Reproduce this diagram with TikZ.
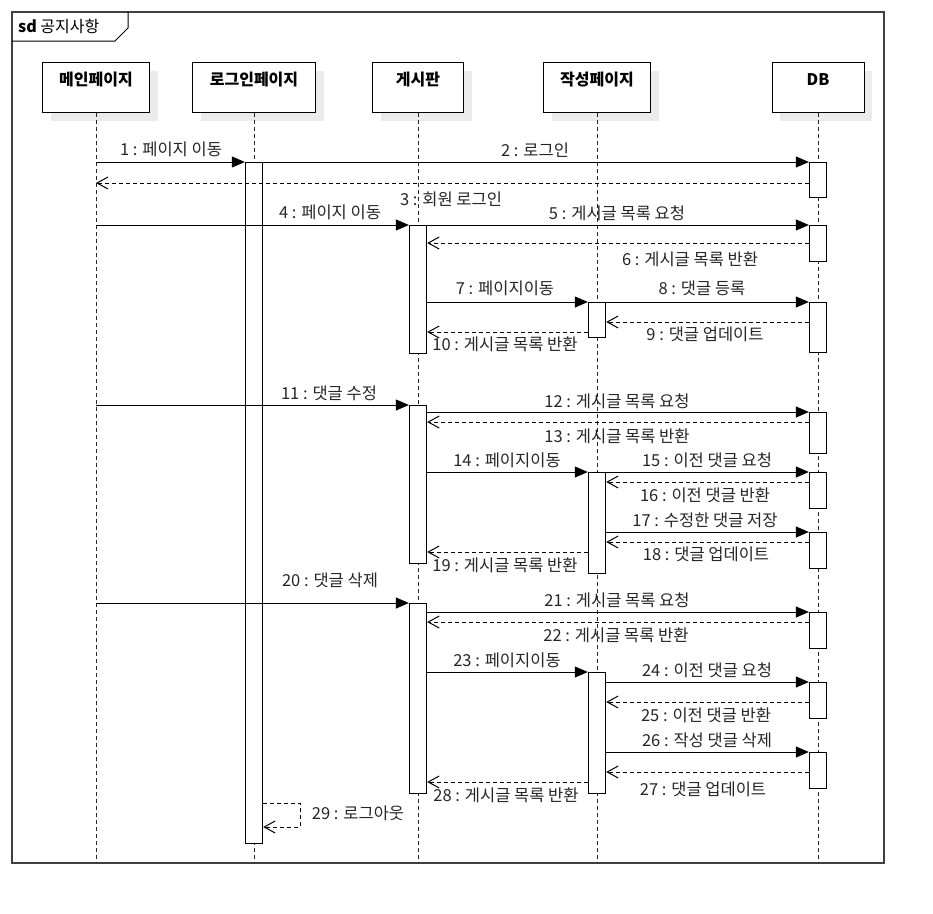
\documentclass[tikz,border=0pt]{standalone}
\usepackage{fontspec}
\setmainfont{Noto Sans CJK KR}
\usetikzlibrary{arrows.meta,shadows}

\newcommand{\diafont}{\fontsize{16.5}{19}\selectfont}

\tikzset{
  headbox/.style={draw, fill=white, line width=1pt, inner sep=0pt, anchor=north,
    text height=23pt, text depth=27pt, font=\fontsize{16}{19}\selectfont\bfseries,
    drop shadow={shadow xshift=8pt, shadow yshift=-8pt, fill=black!8, opacity=1}},
  actbar/.style={draw, fill=white, line width=1.3pt, inner sep=0pt, anchor=north, minimum width=17pt},
  life/.style={line width=0.9pt, black!85, dash pattern=on 4pt off 3pt},
  call/.style={line width=1pt, -{Triangle[length=13pt,width=11pt]}},
  ret/.style={line width=1pt, dash pattern=on 4pt off 3pt, -{Straight Barb[length=11pt,width=12pt]}},
  lbl/.style={inner sep=0pt, text=black!85}
}

\begin{document}
\begin{tikzpicture}[x=1pt, y=-1pt, font=\diafont]
    \useasboundingbox (0,0) rectangle (933,913);
    % Frame
    \draw[line width=1.5pt, black!75] (12,12) rectangle (884,863);
    \draw[line width=1pt] (12,41) -- (115,41) -- (128,28) -- (128,12);
    \node[anchor=west, inner sep=0pt, font=\fontsize{16}{19}\selectfont] (title) at (18,26) {\textbf{sd} 공지사항};
    % Lifeline heads
    \node[headbox, minimum width=107pt] (main) at (96,62) {메인페이지};
    \node[headbox, minimum width=123pt] (login) at (254,62) {로그인페이지};
    \node[headbox, minimum width=91pt] (board) at (418,62) {게시판};
    \node[headbox, minimum width=107pt] (write) at (597,62) {작성페이지};
    \node[headbox, minimum width=92pt] (db) at (818,62) {DB};
    % Lifelines
    \foreach \who in {main,login,board,write,db}
        \draw[life] (\who.south) -- (\who |- 0,863);
    % Activation bars
    \node[actbar, minimum height=681pt] (lgA) at (254,162) {};
    \node[actbar, minimum height=128pt] (bdA) at (418,225) {};
    \node[actbar, minimum height=158pt] (bdB) at (418,405) {};
    \node[actbar, minimum height=190pt] (bdC) at (418,603) {};
    \node[actbar, minimum height=35pt] (wrA) at (597,302) {};
    \node[actbar, minimum height=101pt] (wrB) at (597,472) {};
    \node[actbar, minimum height=121pt] (wrC) at (597,672) {};
    \node[actbar, minimum height=35pt] (dbA) at (818,162) {};
    \node[actbar, minimum height=36pt] (dbB) at (818,225) {};
    \node[actbar, minimum height=50pt] (dbC) at (818,302) {};
    \node[actbar, minimum height=41pt] (dbD) at (818,412) {};
    \node[actbar, minimum height=36pt] (dbE) at (818,472) {};
    \node[actbar, minimum height=36pt] (dbF) at (818,532) {};
    \node[actbar, minimum height=36pt] (dbG) at (818,612) {};
    \node[actbar, minimum height=36pt] (dbH) at (818,682) {};
    \node[actbar, minimum height=36pt] (dbI) at (818,752) {};
    % Messages
    \draw[call] (main |- 0,162) -- (lgA.north west);
    \draw[call] (lgA.north east) -- (dbA.north west);
    \draw[ret] (dbA.west |- 0,183) -- (main |- 0,183);
    \draw[call] (main |- 0,225) -- (bdA.north west);
    \draw[call] (bdA.north east) -- (dbB.north west);
    \draw[ret] (dbB.west |- 0,243) -- (bdA.east |- 0,243);
    \draw[call] (bdA.east |- 0,302) -- (wrA.north west);
    \draw[call] (wrA.north east) -- (dbC.north west);
    \draw[ret] (dbC.west |- 0,322) -- (wrA.east |- 0,322);
    \draw[ret] (wrA.west |- 0,332) -- (bdA.east |- 0,332);
    \draw[call] (main |- 0,405) -- (bdB.north west);
    \draw[call] (bdB.east |- 0,412) -- (dbD.north west);
    \draw[ret] (dbD.west |- 0,422) -- (bdB.east |- 0,422);
    \draw[call] (bdB.east |- 0,472) -- (wrB.north west);
    \draw[call] (wrB.north east) -- (dbE.north west);
    \draw[ret] (dbE.west |- 0,482) -- (wrB.east |- 0,482);
    \draw[call] (wrB.east |- 0,532) -- (dbF.north west);
    \draw[ret] (dbF.west |- 0,542) -- (wrB.east |- 0,542);
    \draw[ret] (wrB.west |- 0,552) -- (bdB.east |- 0,552);
    \draw[call] (main |- 0,603) -- (bdC.north west);
    \draw[call] (bdC.east |- 0,612) -- (dbG.north west);
    \draw[ret] (dbG.west |- 0,622) -- (bdC.east |- 0,622);
    \draw[call] (bdC.east |- 0,672) -- (wrC.north west);
    \draw[call] (wrC.east |- 0,682) -- (dbH.north west);
    \draw[ret] (dbH.west |- 0,702) -- (wrC.east |- 0,702);
    \draw[call] (wrC.east |- 0,752) -- (dbI.north west);
    \draw[ret] (dbI.west |- 0,772) -- (wrC.east |- 0,772);
    \draw[ret] (wrC.west |- 0,782) -- (bdC.east |- 0,782);
    \draw[ret] (lgA.east |- 0,803) -- ++(37,0) -- ++(0,24) -- (lgA.east |- 0,827);
    % Message labels
    \node[lbl] (l1) at (171,149) {1 : 페이지 이동};
    \node[lbl] (l2) at (535,150) {2 : 로그인};
    \node[lbl] (l3) at (451,199) {3 : 회원 로그인};
    \node[lbl] (l4) at (330,212) {4 : 페이지 이동};
    \node[lbl] (l5) at (617,213) {5 : 게시글 목록 요청};
    \node[lbl] (l6) at (690,259) {6 : 게시글 목록 반환};
    \node[lbl] (l7) at (505,288) {7 : 페이지이동};
    \node[lbl] (l8) at (702,288) {8 : 댓글 등록};
    \node[lbl] (l9) at (705,334) {9 : 댓글 업데이트};
    \node[lbl] (l10) at (505,344) {10 : 게시글 목록 반환};
    \node[lbl] (l11) at (329,393) {11 : 댓글 수정};
    \node[lbl] (l12) at (617,401) {12 : 게시글 목록 요청};
    \node[lbl] (l13) at (617,436) {13 : 게시글 목록 반환};
    \node[lbl] (l14) at (507,460) {14 : 페이지이동};
    \node[lbl] (l15) at (707,460) {15 : 이전 댓글 요청};
    \node[lbl] (l16) at (705,495) {16 : 이전 댓글 반환};
    \node[lbl] (l17) at (705,520) {17 : 수정한 댓글 저장};
    \node[lbl] (l18) at (706,554) {18 : 댓글 업데이트};
    \node[lbl] (l19) at (505,565) {19 : 게시글 목록 반환};
    \node[lbl] (l20) at (330,580) {20 : 댓글 삭제};
    \node[lbl] (l21) at (617,600) {21 : 게시글 목록 요청};
    \node[lbl] (l22) at (616,635) {22 : 게시글 목록 반환};
    \node[lbl] (l23) at (507,660) {23 : 페이지이동};
    \node[lbl] (l24) at (707,670) {24 : 이전 댓글 요청};
    \node[lbl] (l25) at (706,715) {25 : 이전 댓글 반환};
    \node[lbl] (l26) at (707,740) {26 : 작성 댓글 삭제};
    \node[lbl] (l27) at (703,789) {27 : 댓글 업데이트};
    \node[lbl] (l28) at (506,795) {28 : 게시글 목록 반환};
    \node[lbl] (l29) at (358,813) {29 : 로그아웃};
\end{tikzpicture}
\end{document}
